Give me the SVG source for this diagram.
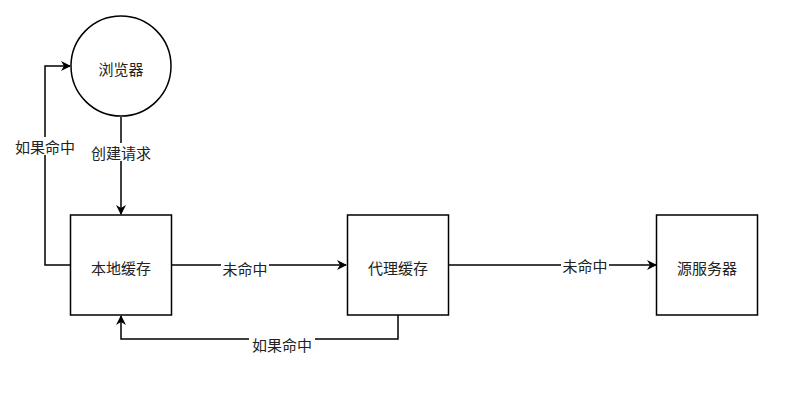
<svg xmlns="http://www.w3.org/2000/svg" width="808" height="416" viewBox="0 0 808 416">
<style>
.n{fill:#fff;stroke:#000;stroke-width:1.5}
.e{fill:none;stroke:#000;stroke-width:1.5}
text{font-family:"Microsoft YaHei","Noto Sans CJK SC",sans-serif;font-size:15px;fill:#222;text-anchor:middle;dominant-baseline:central}
.lb{fill:#fff}
</style>
<defs>
<marker id="ar" viewBox="0 0 10 10" refX="9" refY="5" markerWidth="10" markerHeight="10" markerUnits="userSpaceOnUse" orient="auto">
<path d="M0,0 L10,5 L0,10 L3,5 Z" fill="#000"/>
</marker>
</defs>
<rect width="808" height="416" fill="#fff"/>
<g id="connectors">
<path class="e" d="M121,117 V214" marker-end="url(#ar)"/>
<path class="e" d="M70,265 H45 V66 H70" marker-end="url(#ar)"/>
<path class="e" d="M171,265 H346" marker-end="url(#ar)"/>
<path class="e" d="M448,265 H656" marker-end="url(#ar)"/>
<path class="e" d="M398,315 V339 H121 V316" marker-end="url(#ar)"/>
<rect class="lb" x="89" y="143" width="64" height="18"/>
<text x="121" y="152">创建请求</text>
<rect class="lb" x="12" y="137" width="66" height="18"/>
<text x="45" y="146">如果命中</text>
<rect class="lb" x="221" y="259" width="48" height="18"/>
<text x="245" y="268">未命中</text>
<rect class="lb" x="561" y="257" width="48" height="18"/>
<text x="585" y="265">未命中</text>
<rect class="lb" x="249" y="335" width="66" height="18"/>
<text x="282" y="344">如果命中</text>
</g>
<g id="browser">
<circle class="n" cx="121" cy="66" r="50"/>
<text x="121" y="68">浏览器</text>
</g>
<g id="local-cache">
<rect class="n" x="70.5" y="215" width="101" height="100"/>
<text x="121" y="267">本地缓存</text>
</g>
<g id="proxy-cache">
<rect class="n" x="347.5" y="215" width="101" height="100"/>
<text x="398" y="267">代理缓存</text>
</g>
<g id="origin-server">
<rect class="n" x="656.5" y="215" width="101" height="100"/>
<text x="707" y="267">源服务器</text>
</g>
</svg>
